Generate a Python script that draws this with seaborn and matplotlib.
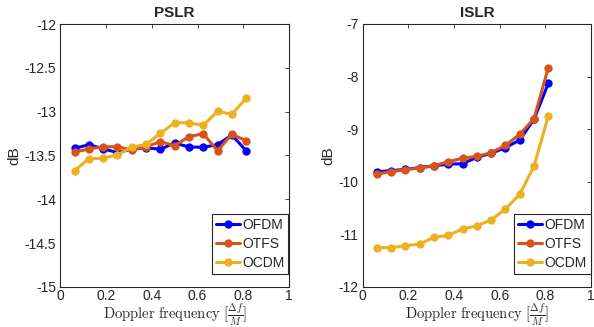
import numpy as np
import pandas as pd
import matplotlib
matplotlib.use("Agg")
import matplotlib.pyplot as plt
import seaborn as sns

# Data
doppler = [1/16, 2/16, 3/16, 4/16, 5/16, 6/16, 7/16, 8/16, 9/16, 10/16, 11/16, 12/16, 13/16]
pslr_ofdm = [-13.418, -13.377, -13.422, -13.468, -13.426, -13.411, -13.429, -13.357, -13.403, -13.406, -13.377, -13.266, -13.445]
pslr_otfs = [-13.460, -13.426, -13.400, -13.400, -13.437, -13.400, -13.342, -13.388, -13.285, -13.251, -13.445, -13.258, -13.331]
pslr_ocdm = [-13.673, -13.536, -13.532, -13.491, -13.406, -13.373, -13.247, -13.126, -13.126, -13.156, -12.996, -13.030, -12.848]
islr_ofdm = [-9.808, -9.789, -9.763, -9.731, -9.694, -9.667, -9.655, -9.535, -9.459, -9.352, -9.205, -8.812, -8.128]
islr_otfs = [-9.852, -9.808, -9.770, -9.738, -9.694, -9.618, -9.553, -9.516, -9.446, -9.307, -9.097, -8.800, -7.830]
islr_ocdm = [-11.253, -11.253, -11.215, -11.183, -11.056, -11.017, -10.897, -10.835, -10.726, -10.517, -10.238, -9.700, -8.749]
series = ["OFDM", "OTFS", "OCDM"]
colors = ["#0000ff", "#d95319", "#edb120"]

sns.set_style("white")
plt.rcParams['font.family'] = ['Liberation Sans', 'DejaVu Sans']
plt.rcParams['axes.unicode_minus'] = False
plt.rcParams['mathtext.fontset'] = 'cm'

def make_df(a, b, c):
    rows = []
    for name, vals in zip(series, [a, b, c]):
        for x, v in zip(doppler, vals):
            rows.append({"x": x, "y": v, "method": name})
    return pd.DataFrame(rows)

fig = plt.figure(figsize=(5.94, 3.27), dpi=100)
ax1 = fig.add_axes([60.3/594, 1-287/327, 228.7/594, 263/327])
ax2 = fig.add_axes([362.5/594, 1-287/327, 228.7/594, 263/327])

panels = [
    (ax1, make_df(pslr_ofdm, pslr_otfs, pslr_ocdm), "PSLR", (-15, -12), np.arange(-15, -11.9, 0.5)),
    (ax2, make_df(islr_ofdm, islr_otfs, islr_ocdm), "ISLR", (-12, -7), np.arange(-12, -6.9, 1)),
]

for ax, df, title, ylim, yticks in panels:
    sns.lineplot(data=df, x="x", y="y", hue="method", palette=colors, hue_order=series,
                 marker="o", markersize=6, markeredgewidth=0, linewidth=2.2, ax=ax,
                 legend=True)
    ax.set_xlim(0, 1)
    ax.set_ylim(*ylim)
    ax.set_xticks([0, 0.2, 0.4, 0.6, 0.8, 1])
    ax.set_xticklabels(["0", "0.2", "0.4", "0.6", "0.8", "1"])
    ax.set_yticks(yticks)
    ax.set_yticklabels([("%g" % t) for t in yticks])
    ax.tick_params(direction="in", length=3, width=0.6, labelsize=10, colors="#262626",
                   top=True, right=True, pad=3)
    ax.tick_params(axis="x", pad=1.5)
    for s in ax.spines.values():
        s.set_linewidth(0.8)
        s.set_color("#262626")
    ax.set_title(title, fontsize=11, fontweight="bold", pad=5)
    ax.set_ylabel("dB", fontsize=11, labelpad=2)
    ax.set_xlabel(r"$\mathrm{Doppler\ frequency}\ [\frac{\Delta f}{M}]$", fontsize=10.5, labelpad=-1.5)
    leg = ax.legend(loc="lower right", bbox_to_anchor=(0.997, 13/263), fontsize=10,
                    frameon=True, fancybox=False, borderaxespad=0,
                    handlelength=1.7, handletextpad=0.15,
                    borderpad=0.3, labelspacing=0.35)
    leg.get_frame().set_edgecolor("#262626")
    leg.get_frame().set_linewidth(0.8)
    leg.get_frame().set_alpha(1)

fig.savefig("out.png", dpi=100)
